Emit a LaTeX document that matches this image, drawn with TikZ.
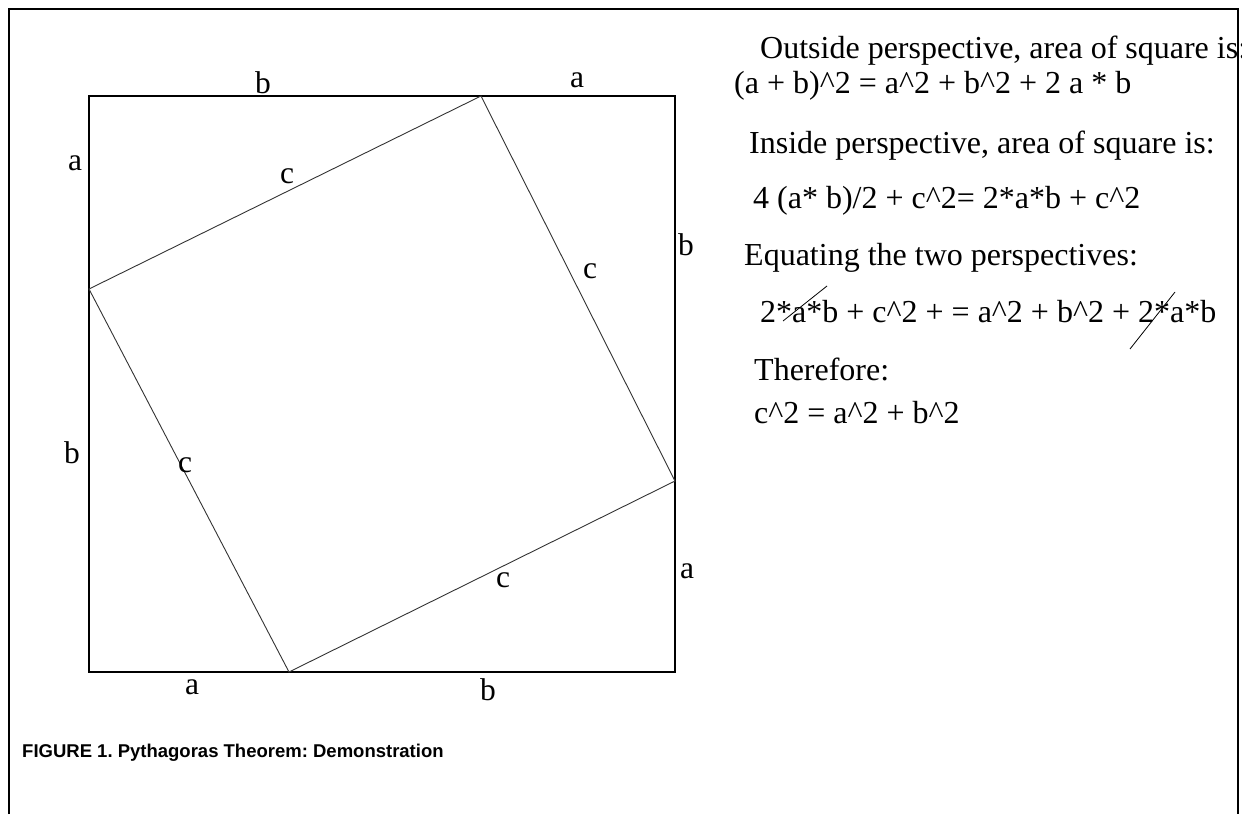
\documentclass[tikz,border=0pt]{standalone}
\usepackage{fontspec}
\setmainfont{Liberation Serif}
\newfontfamily\capfont{Liberation Sans}
\begin{document}
\frenchspacing
\begin{tikzpicture}[x=1pt,y=-1pt,
  lbl/.style={font=\fontsize{31.5}{36}\selectfont, inner sep=0pt},
  eq/.style={font=\fontsize{32}{36}\selectfont, inner sep=0pt, anchor=base west},
  frameline/.style={line width=2.2pt},
  outerline/.style={line width=1.4pt},
  innerline/.style={line width=0.9pt, black!80},
  strike/.style={line width=0.8pt}]
\useasboundingbox (0,0) rectangle (1242,814);
% frame
\draw[frameline] (9,814) -- (9,9) -- (1238,9) -- (1238,814);
% squares
\coordinate (TL) at (89,96);
\coordinate (BR) at (675,672);
\draw[outerline] (TL) rectangle (BR);
\coordinate (P1) at (481,96);
\coordinate (P2) at (675,481);
\coordinate (P3) at (289,672);
\coordinate (P4) at (89,289);
\draw[innerline] (P1) -- (P2) -- (P3) -- (P4) -- cycle;
% side labels
\node[lbl] (tb) at (263,83) {b};
\node[lbl] (ta) at (577,80) {a};
\node[lbl] (la) at (75,163) {a};
\node[lbl] (lb) at (72,453) {b};
\node[lbl] (rb) at (686,245) {b};
\node[lbl] (ra) at (687,571) {a};
\node[lbl] (ba) at (192,687) {a};
\node[lbl] (bb) at (488,690) {b};
\node[lbl] (c1) at (287,176) {c};
\node[lbl] (c2) at (590,271) {c};
\node[lbl] (c3) at (185,465) {c};
\node[lbl] (c4) at (503,580) {c};
% equations
\node[eq] (e1) at (760,58) {Outside perspective, area of square is:};
\node[eq] (e2) at (734,93) {(a + b)\^{}2 = a\^{}2 + b\^{}2 + 2 a * b};
\node[eq] (e3) at (749,153) {Inside perspective, area of square is:};
\node[eq] (e4) at (753,208) {4 (a* b)/2 + c\^{}2= 2*a*b + c\^{}2};
\node[eq] (e5) at (744,265) {Equating the two perspectives:};
\node[eq] (e6) at (760,322) {2*a*b + c\^{}2 + = a\^{}2 + b\^{}2 + 2*a*b};
\node[eq] (e7) at (754,380) {Therefore:};
\node[eq] (e8) at (754,423) {c\^{}2 = a\^{}2 + b\^{}2};
% strike-outs
\draw[strike] (783,321) -- (827,286);
\draw[strike] (1130,349) -- (1175,292);
% caption
\node[anchor=base west, inner sep=0pt, font=\capfont\bfseries\fontsize{18.5}{22}\selectfont] (cap) at (22,757) {FIGURE 1. Pythagoras Theorem: Demonstration};
\end{tikzpicture}
\end{document}
